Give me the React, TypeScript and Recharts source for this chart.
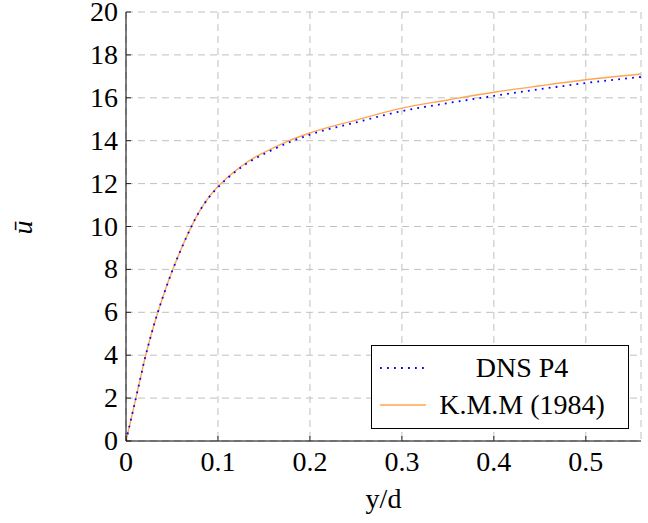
import React from "react";
import { LineChart, Line, XAxis, YAxis, CartesianGrid } from "recharts";

// wall distance y/d
const yd = [
  0, 0.005, 0.01, 0.015, 0.02, 0.025, 0.03, 0.04, 0.05, 0.06, 0.07, 0.08, 0.09,
  0.1, 0.11, 0.12, 0.13, 0.14, 0.15, 0.175, 0.2, 0.25, 0.3, 0.35, 0.4, 0.45,
  0.5, 0.56,
];
// mean velocity, DNS P4
const dnsP4 = [
  0, 0.93, 1.86, 2.8, 3.75, 4.58, 5.35, 6.7, 7.9, 8.95, 9.9, 10.72, 11.35,
  11.83, 12.24, 12.59, 12.9, 13.16, 13.38, 13.88, 14.28, 14.85, 15.38, 15.75,
  16.09, 16.4, 16.69, 16.97,
];
// Kim, Moin & Moser (1984)
const kmm = [
  0, 0.93, 1.86, 2.8, 3.75, 4.58, 5.35, 6.7, 7.9, 8.95, 9.9, 10.72, 11.36,
  11.86, 12.27, 12.63, 12.95, 13.22, 13.45, 13.96, 14.36, 14.96, 15.52, 15.9,
  16.26, 16.56, 16.84, 17.11,
];

const xTicks = [0, 0.1, 0.2, 0.3, 0.4, 0.5];
const yTicks = [0, 2, 4, 6, 8, 10, 12, 14, 16, 18, 20];

const data = yd.map((x, i) => ({ x, dns: dnsP4[i], kmm: kmm[i] }));

const FONT = "'Liberation Serif', 'DejaVu Serif', serif";
const FS = 28;
const BLUE = "#0000ff";
const ORANGE = "#ffa650";

const BottomTick = (props: any) => {
  const { x, y, payload } = props;
  return (
    <g>
      <line x1={x} y1={y} x2={x} y2={y - 5} stroke="#222" />
      <text x={x} y={y + 30} textAnchor="middle" fontFamily={FONT} fontSize={FS} fill="#000">
        {payload.value}
      </text>
    </g>
  );
};

const TopTick = (props: any) => {
  const { x, y } = props;
  return <line x1={x} y1={y} x2={x} y2={y + 5} stroke="#222" />;
};

const LeftTick = (props: any) => {
  const { x, y, payload } = props;
  return (
    <g>
      <line x1={x} y1={y} x2={x + 5} y2={y} stroke="#222" />
      <text x={x - 8} y={y + 9} textAnchor="end" fontFamily={FONT} fontSize={FS} fill="#000">
        {payload.value}
      </text>
    </g>
  );
};

const RightTick = (props: any) => {
  const { x, y } = props;
  return <line x1={x} y1={y} x2={x - 5} y2={y} stroke="#222" />;
};

const LegendBox = () => (
  <svg
    width={258}
    height={84}
    style={{ position: "absolute", left: 371, top: 345, display: "block" }}
  >
    <rect x={0.5} y={0.5} width={257} height={83} fill="#fff" stroke="#000" />
    <line x1={9} y1={23} x2={55} y2={23} stroke={BLUE} strokeWidth={1.8} strokeDasharray="1.8 5.2" />
    <text x={151} y={32} textAnchor="middle" fontFamily={FONT} fontSize={FS} fill="#000">
      DNS P4
    </text>
    <line x1={9} y1={60} x2={55} y2={60} stroke={ORANGE} strokeWidth={1.4} />
    <text x={151} y={69} textAnchor="middle" fontFamily={FONT} fontSize={FS} fill="#000">
      K.M.M (1984)
    </text>
  </svg>
);

export default function App() {
  return (
    <div style={{ position: "absolute", left: 0, top: 0, width: 648, height: 523, background: "#fff" }}>
      <LineChart
        width={648}
        height={523}
        data={data}
        margin={{ top: 12, right: 7, bottom: 42, left: 0 }}
      >
        <CartesianGrid stroke="#c0c0c0" strokeDasharray="7 5" />
        <XAxis
          dataKey="x"
          type="number"
          domain={[0, 0.56]}
          ticks={xTicks}
          allowDataOverflow
          height={40}
          tickSize={0}
          tickMargin={0}
          tickLine={false}
          tick={<BottomTick />}
          axisLine={{ stroke: "#000" }}
          label={{
            value: "y/d",
            position: "insideBottom",
            offset: -27,
            fontFamily: FONT,
            fontSize: FS,
            fill: "#000",
          }}
        />
        <XAxis
          xAxisId="top"
          orientation="top"
          dataKey="x"
          type="number"
          domain={[0, 0.56]}
          ticks={xTicks}
          allowDataOverflow
          height={0}
          tickSize={0}
          tickMargin={0}
          tickLine={false}
          tick={<TopTick />}
          axisLine={{ stroke: "#000" }}
        />
        <YAxis
          type="number"
          domain={[0, 20]}
          ticks={yTicks}
          width={126}
          tickSize={0}
          tickMargin={0}
          tickLine={false}
          tick={<LeftTick />}
          axisLine={{ stroke: "#000" }}
          label={{
            value: "ū",
            angle: -90,
            position: "insideLeft",
            offset: 22,
            dy: 8,
            fontFamily: FONT,
            fontStyle: "italic",
            fontSize: 28,
            fill: "#000",
          }}
        />
        <YAxis
          yAxisId="right"
          orientation="right"
          type="number"
          domain={[0, 20]}
          ticks={yTicks}
          width={0}
          tickSize={0}
          tickMargin={0}
          tickLine={false}
          tick={<RightTick />}
          axisLine={{ stroke: "#000" }}
        />
        <Line
          type="monotone"
          dataKey="kmm"
          stroke={ORANGE}
          strokeWidth={1.4}
          dot={false}
          isAnimationActive={false}
        />
        <Line
          type="monotone"
          dataKey="dns"
          stroke={BLUE}
          strokeWidth={1.8}
          strokeDasharray="1.8 5.2"
          dot={false}
          isAnimationActive={false}
        />
      </LineChart>
      <LegendBox />
    </div>
  );
}
